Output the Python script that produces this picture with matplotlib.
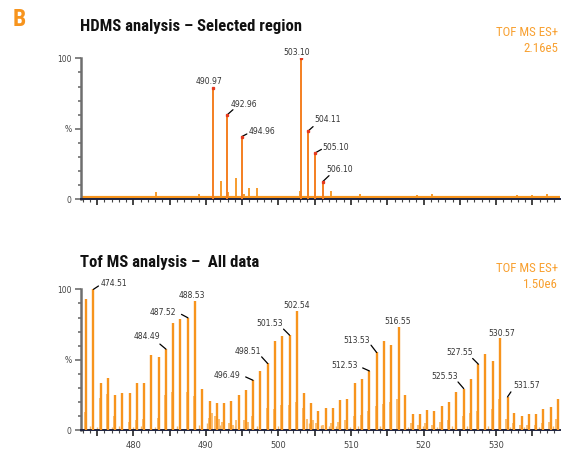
import matplotlib
matplotlib.use("Agg")
import matplotlib.pyplot as plt
from matplotlib import font_manager as fm
from matplotlib.ticker import MultipleLocator, FixedLocator, FixedFormatter

# ---------------- data ----------------
# Top panel: HDMS analysis - selected region
top_peak_mz = [490.97, 492.96, 494.96, 503.10, 504.11, 505.10, 506.10]
top_peak_h = [79, 60, 44.5, 100, 48.5, 33, 12.5]
top_peak_labels = ["490.97", "492.96", "494.96", "503.10", "504.11", "505.10", "506.10"]

top_minor_mz = [475.1, 477.0, 481.2, 483.1, 489.1, 492.07, 493.1, 494.1, 495.25, 496.0,
                497.0, 503.0, 505.0, 507.2, 511.25, 513.1, 519.1, 521.1, 532.9, 535.0, 537.0,
                473.5, 474.2, 476.0, 478.0, 478.9, 479.6, 480.4, 482.0, 484.0, 484.9, 485.7,
                486.5, 487.4, 488.2, 490.2, 498.1, 499.0, 500.4, 501.3, 502.2, 508.2, 509.0,
                510.2, 512.0, 514.2, 515.0, 516.1, 517.0, 518.0, 520.1, 522.0, 523.1, 524.0,
                525.1, 526.0, 527.1, 528.0, 529.0, 530.1, 531.0, 532.0, 534.0, 536.0, 538.0]
top_minor_h = [2, 2.5, 2, 5, 4, 13, 5, 15, 4, 8,
               8, 6, 5, 6, 4, 2.5, 3, 4, 3, 3, 4,
               1.5, 1.2, 1.5, 1.5, 1.2, 1.6, 1.8, 1.4, 1.8, 1.5, 2,
               1.5, 1.3, 1.6, 2, 1.5, 1.2, 1.6, 1.4, 1.8, 1.6, 1.3,
               1.5, 1.5, 1.8, 1.4, 1.5, 1.3, 1.6, 1.4, 1.5, 1.8, 1.3,
               1.5, 1.6, 1.4, 1.5, 1.3, 1.6, 1.8, 1.5, 1.6, 1.4, 1.8]

# Bottom panel: TOF MS analysis - all data
bot_mz = [473.5, 474.51, 475.5, 476.5, 477.5, 478.5, 479.5, 480.5, 481.5, 482.5,
          483.5, 484.49, 485.5, 486.5, 487.52, 488.53, 489.5, 490.5, 491.5, 492.5,
          493.5, 494.5, 495.5, 496.49, 497.5, 498.51, 499.5, 500.5, 501.53, 502.54,
          503.5, 504.5, 505.5, 506.5, 507.5, 508.5, 509.5, 510.5, 511.5, 512.53,
          513.53, 514.5, 515.5, 516.55, 517.5, 518.5, 519.5, 520.5, 521.5, 522.5,
          523.5, 524.5, 525.53, 526.5, 527.55, 528.5, 529.5, 530.57, 531.57, 532.5,
          533.5, 534.5, 535.5, 536.5, 537.5, 538.5]
bot_h = [92.9, 100, 33.6, 37.4, 24.9, 26.1, 26.1, 33.6, 33.9, 53.3,
         52.1, 57.6, 76.0, 78.9, 79.8, 91.7, 29.1, 20.6, 19.4, 19.4,
         20.6, 24.9, 28.4, 35.5, 42.1, 47.4, 63.3, 66.8, 67.5, 84.6,
         26.8, 19.4, 13.5, 16.1, 16.1, 21.3, 22.5, 33.6, 36.2, 42.1,
         55.2, 63.3, 60.4, 73.4, 24.9, 11.4, 11.4, 14.2, 13.5, 17.1,
         20.2, 27.3, 29.6, 36.7, 46.9, 54.0, 49.0, 65.2, 23.7, 12.3,
         10.2, 11.8, 11.8, 15.4, 16.6, 22.5]

bot_minor_mz = [473.4, 474.4, 475.4, 476.4, 477.4, 478.4, 479.4, 480.4, 481.4, 482.4,
                483.4, 484.4, 485.4, 486.4, 487.4, 488.4, 489.4, 490.4, 490.8, 491.2,
                491.8, 492.2, 493.2, 493.8, 494.2, 495.2, 495.8, 496.3, 497.4, 498.4,
                499.4, 500.4, 501.4, 502.4, 503.4, 504.0, 504.8, 505.2, 506.2, 507.2,
                508.2, 509.2, 510.4, 511.4, 512.4, 513.4, 514.4, 515.4, 516.4, 517.4,
                518.2, 519.2, 520.2, 521.2, 522.3, 523.3, 524.4, 525.4, 526.4, 527.4,
                528.4, 529.4, 530.4, 531.4, 532.3, 533.3, 534.3, 535.3, 536.3, 537.3, 538.3]
bot_minor_h = [13, 18, 23, 26, 10, 6, 6, 7, 8, 18,
               9, 25, 27, 21, 27, 24, 17, 9, 12, 10,
               8, 6, 5, 4, 7, 7, 6, 10, 12, 16,
               15, 18, 18, 20, 16, 8, 7, 5, 4, 5,
               6, 7, 10, 11, 14, 17, 19, 20, 22, 8,
               5, 4, 5, 4, 6, 7, 10, 10, 12, 14,
               16, 15, 22, 8, 5, 4, 4, 4, 5, 6, 8]

bot_noise_mz = [474.0, 475.0, 477.0, 478.0, 480.0, 481.0, 483.0, 486.0, 489.0, 490.2,
                492.0, 494.0, 497.0, 500.0, 504.2, 505.8, 506.9, 508.0, 509.9, 511.0,
                514.0, 517.9, 519.9, 521.9, 523.9, 526.0, 528.9, 531.9, 533.9, 535.9, 537.9]
bot_noise_h = [3, 2, 2.5, 3, 2, 3, 2.5, 3, 4, 5,
               4, 3, 3, 3, 5, 4, 3, 3, 2.5, 3,
               3, 2.5, 3, 2.5, 3, 3, 3, 2.5, 2, 2.5, 3]

bot_label_mz = [474.51, 484.49, 487.52, 488.53, 496.49, 498.51, 501.53, 502.54,
                512.53, 513.53, 516.55, 525.53, 527.55, 530.57, 531.57]
bot_label_txt = ["474.51", "484.49", "487.52", "488.53", "496.49", "498.51", "501.53", "502.54",
                 "512.53", "513.53", "516.55", "525.53", "527.55", "530.57", "531.57"]

xtick_vals = [480, 490, 500, 510, 520, 530]

# ---------------- layout / style ----------------
# label offsets in pixels: (leader_dx, leader_dy, text_dx, text_dy), None leader => no line
top_label_layout = [(None, None, -4, 6), (5.6, 5, 17, 10.7), (5, 2.6, 20, 5.4),
                    (None, None, -4.7, 6), (4.8, 4.3, 19.6, 11), (6, 3.4, 20, 5.4),
                    (6.3, 6, 16.7, 11.7)]
bot_label_layout = [(5, 3.3, 20.7, 5.6), (-6, 5, -19.4, 12.3), (-6.4, 3.4, -25, 5.4),
                    (None, None, -3.7, 5.3), (-7.3, 3.3, -26, 5), (-6, 6.6, -20, 11.6),
                    (-6, 6, -19.5, 11.7), (None, None, 0, 5.7), (-6.7, 3, -25, 5.7),
                    (-5.6, 7.3, -19.8, 12.3), (None, None, -1, 5.7), (-5.7, 6.6, -19.5, 12.3),
                    (-5.7, 5.7, -18.7, 11.7), (None, None, 1, 5), (3.4, 5, 18.7, 11.7)]

names = {f.name for f in fm.fontManager.ttflist}
cond_family = None
for cand in ["Roboto Condensed", "Liberation Sans Narrow", "Open Sans Condensed", "DejaVu Sans Condensed"]:
    if cand in names:
        cond_family = cand
        break
if cond_family is None:
    cond_kw = dict(family="DejaVu Sans", stretch="condensed")
else:
    cond_kw = dict(family=cond_family)

ORANGE = "#F7941D"
TOP_LINE = "#F47F20"
LIGHT = "#F9B55F"
RED = "#E53A1E"
LABEL_C = "#333333"
AXIS_C = "#6E6E6E"

W, H = 561, 449
DPI = 100
fig = plt.figure(figsize=(W / DPI, H / DPI), dpi=DPI)
PT = 72.0 / DPI

left = 80.7 / W
width = (560 - 80.7) / W
ax_top = fig.add_axes([left, 1 - 199.3 / H, width, 141 / H])
ax_bot = fig.add_axes([left, 1 - 430.3 / H, width, 141 / H])

XLIM = (472.75, 538.8)


def style_axis(ax, show_xlabels):
    ax.set_xlim(*XLIM)
    ax.set_ylim(0, 100)
    for s in ["top", "right"]:
        ax.spines[s].set_visible(False)
    ax.spines["left"].set_color(AXIS_C)
    ax.spines["left"].set_linewidth(1.8)
    ax.spines["bottom"].set_color("#1d2340")
    ax.spines["bottom"].set_linewidth(1.4)
    ax.yaxis.set_major_locator(FixedLocator([0, 50, 100]))
    ax.yaxis.set_major_formatter(FixedFormatter(["0", "%", "100"]))
    ax.yaxis.set_minor_locator(MultipleLocator(10))
    ax.tick_params(axis="y", which="major", length=4.5, width=1.2, color=AXIS_C,
                   labelsize=5.5, labelcolor="#444444", pad=2)
    ax.tick_params(axis="y", which="minor", length=2.5, width=1.2, color=AXIS_C)
    ax.xaxis.set_major_locator(MultipleLocator(5))
    ax.xaxis.set_minor_locator(MultipleLocator(1))
    ax.tick_params(axis="x", which="major", length=4, width=1.2, color="#222222",
                   labelsize=6, labelcolor="#444444", pad=4)
    ax.tick_params(axis="x", which="minor", length=1.8, width=0.8, color="#444444")
    if show_xlabels:
        ax.set_xticks(list(range(475, 539, 5)))
        ax.set_xticklabels(["" if v % 10 else str(v) for v in range(475, 539, 5)])
    else:
        ax.set_xticklabels([])
    ax.patch.set_alpha(0)


style_axis(ax_top, False)
style_axis(ax_bot, True)

# ---- top panel ----
ax_top.vlines(top_minor_mz, 0, top_minor_h, color=ORANGE, lw=1.3, zorder=2)
ax_top.vlines(top_peak_mz, 0, top_peak_h, color=TOP_LINE, lw=1.4, zorder=3)
ax_top.plot(top_peak_mz, top_peak_h, ls="none", marker="s", ms=1.4, color=RED, zorder=4)
ax_top.axhline(1.0, color=ORANGE, lw=3.0, zorder=2.5)

for mz, h, lab, (ldx, ldy, tdx, tdy) in zip(top_peak_mz, top_peak_h, top_peak_labels, top_label_layout):
    if ldx is not None:
        ax_top.annotate("", xy=(mz, h), xytext=(ldx * PT, ldy * PT), textcoords="offset points",
                        arrowprops=dict(arrowstyle="-", color="black", lw=0.9, shrinkA=0, shrinkB=0),
                        annotation_clip=False)
    ax_top.annotate(lab, xy=(mz, h), xytext=(tdx * PT, tdy * PT), textcoords="offset points",
                    ha="center", va="center", fontsize=5.5, color=LABEL_C,
                    family="DejaVu Sans", annotation_clip=False)

# ---- bottom panel ----
ax_bot.vlines(bot_noise_mz, 0, bot_noise_h, color=LIGHT, lw=1.0, zorder=2)
ax_bot.vlines(bot_minor_mz, 0, bot_minor_h, color=LIGHT, lw=1.2, zorder=2)
ax_bot.vlines(bot_mz, 0, bot_h, color=ORANGE, lw=1.7, zorder=3)

for mz, lab, (ldx, ldy, tdx, tdy) in zip(bot_label_mz, bot_label_txt, bot_label_layout):
    h = bot_h[bot_mz.index(mz)]
    if ldx is not None:
        ax_bot.annotate("", xy=(mz, h), xytext=(ldx * PT, ldy * PT), textcoords="offset points",
                        arrowprops=dict(arrowstyle="-", color="black", lw=0.9, shrinkA=0, shrinkB=0),
                        annotation_clip=False)
    ax_bot.annotate(lab, xy=(mz, h), xytext=(tdx * PT, tdy * PT), textcoords="offset points",
                    ha="center", va="center", fontsize=5.5, color=LABEL_C,
                    family="DejaVu Sans", annotation_clip=False)

# ---- figure texts ----
fig.text(12.5 / W, 1 - 19.5 / H, "B", color=ORANGE, fontsize=17, fontweight="bold",
         ha="left", va="center", **cond_kw)
fig.text(80 / W, 1 - 27 / H, "HDMS analysis \u2013 Selected region", color="#111111",
         fontsize=12.0, fontweight="semibold", ha="left", va="center", **cond_kw)
fig.text(80 / W, 1 - 262 / H, "Tof MS analysis \u2013  All data", color="#111111",
         fontsize=12.0, fontweight="semibold", ha="left", va="center", **cond_kw)

TOF_C = "#F8A030"
tof_kw = dict(color=TOF_C, fontsize=9.3, fontweight="normal", ha="right", va="center", **cond_kw)
fig.text(558 / W, 1 - 32.5 / H, "TOF MS ES+", **tof_kw)
fig.text(558 / W, 1 - 48.5 / H, "2.16e5", **tof_kw)
fig.text(558 / W, 1 - 268 / H, "TOF MS ES+", **tof_kw)
fig.text(558 / W, 1 - 284.5 / H, "1.50e6", **tof_kw)

fig.savefig("out.png", dpi=DPI)
